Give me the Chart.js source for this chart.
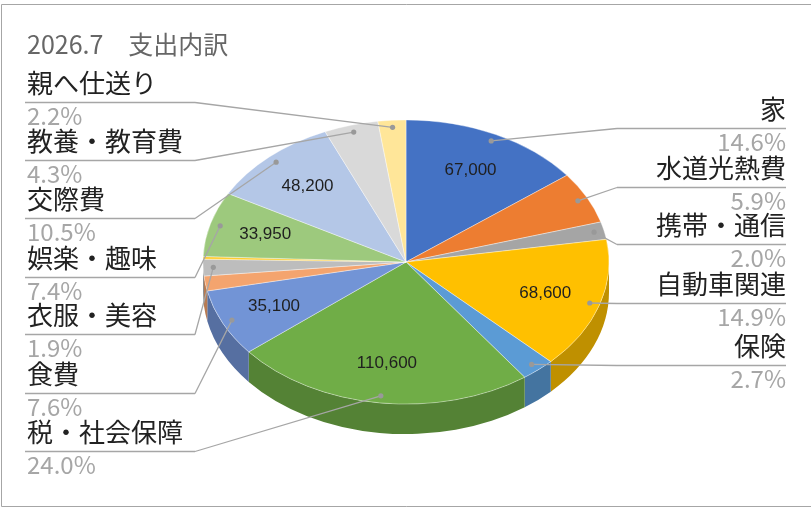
<!DOCTYPE html>
<html>
<head>
<meta charset="utf-8">
<script src="https://cdn.jsdelivr.net/npm/chart.js@4.4.1/dist/chart.umd.min.js"></script>
<style>
    html, body { margin: 0; padding: 0; background: #ffffff; }
    #wrap { width: 811px; height: 507px; position: relative; }
</style>
</head>
<body>
<div id="wrap"><canvas id="expenseChart"></canvas></div>
<script>
// Chart data (2026.7 支出内訳)
const chartTitle = '2026.7　支出内訳';
const categories = ['家', '水道光熱費', '携帯・通信', '自動車関連', '保険', '税・社会保障', '食費', '', '衣服・美容', '', '娯楽・趣味', '交際費', '教養・教育費', '親へ仕送り'];
const amounts = [67000, 27100, 9200, 68600, 12400, 110600, 35100, 7800, 8700, 1400, 33950, 48200, 19800, 10200];

// Slice colours (top face) and the darker side colours
const sliceColors = ['#4472C4', '#ED7D31', '#A5A5A5', '#FFC000', '#5B9BD5', '#70AD47', '#7294D6', '#F4A46E', '#BDBDBD', '#FFCD33', '#9DC97D', '#B4C7E7', '#D9D9D9', '#FFE699'];
const sideColors = sliceColors.map(c => shade(c, 0.75));

// Label layout: underline y of each label box (null = no label)
const labelRows = [128, 187, 244, 303, 365, 451, 393, null, 334, null, 277, 218, 160, 102];

// Pie look
const tilt = 0.70;      // vertical squash of the top face
const depth = 30;       // thickness of the pie side
const valueMin = 0.07;  // show amounts on slices of at least 7%

const fontJP = '"Noto Sans CJK JP", "Noto Sans", sans-serif';

function shade(hex, k) {
    const n = parseInt(hex.slice(1), 16);
    const r = Math.round(((n >> 16) & 255) * k);
    const g = Math.round(((n >> 8) & 255) * k);
    const b = Math.round((n & 255) * k);
    return `rgb(${r}, ${g}, ${b})`;
}

const total = amounts.reduce((a, b) => a + b, 0);

function arcProps(arc) {
    return arc.getProps(['x', 'y', 'startAngle', 'endAngle', 'outerRadius'], true);
}

// point on the squashed pie at a fraction of the radius
function piePoint(p, f) {
    const mid = (p.startAngle + p.endAngle) / 2;
    return {
        x: p.x + f * p.outerRadius * Math.cos(mid),
        y: p.y + f * p.outerRadius * tilt * Math.sin(mid)
    };
}

// Side of the pie + squashed top face
const pie3d = {
    id: 'pie3d',
    beforeDatasetsDraw(chart) {
        const ctx = chart.ctx;
        const meta = chart.getDatasetMeta(0);
        ctx.save();
        meta.data.forEach((arc, i) => {
            const p = arcProps(arc);
            const lo = Math.max(p.startAngle, 0);
            const hi = Math.min(p.endAngle, Math.PI);
            if (hi <= lo) return;
            const ry = p.outerRadius * tilt;
            ctx.beginPath();
            ctx.ellipse(p.x, p.y, p.outerRadius, ry, 0, lo, hi, false);
            ctx.ellipse(p.x, p.y + depth, p.outerRadius, ry, 0, hi, lo, true);
            ctx.closePath();
            ctx.fillStyle = sideColors[i];
            ctx.fill();
        });
        ctx.restore();

        const cy = meta.data[0].y;
        ctx.save();
        ctx.translate(0, cy);
        ctx.scale(1, tilt);
        ctx.translate(0, -cy);
    },
    afterDatasetsDraw(chart) {
        chart.ctx.restore();
    }
};

// Title, frame, amounts and the leader labels
const pieLabels = {
    id: 'pieLabels',
    afterDraw(chart) {
        const ctx = chart.ctx;
        const meta = chart.getDatasetMeta(0);
        ctx.save();

        // frame
        ctx.strokeStyle = '#a6a6a6';
        ctx.lineWidth = 1;
        ctx.beginPath();
        ctx.moveTo(820, 4.5);
        ctx.lineTo(1.5, 4.5);
        ctx.lineTo(1.5, 506.5);
        ctx.lineTo(820, 506.5);
        ctx.stroke();

        // title
        ctx.fillStyle = '#666666';
        ctx.font = `25px ${fontJP}`;
        ctx.textAlign = 'left';
        ctx.textBaseline = 'alphabetic';
        ctx.fillText(chartTitle, 27, 54);

        meta.data.forEach((arc, i) => {
            const p = arcProps(arc);
            const share = amounts[i] / total;

            // amount inside the slice
            if (share >= valueMin) {
                const v = piePoint(p, 0.72);
                ctx.fillStyle = '#1f1f1f';
                ctx.font = '17px "Liberation Sans", Arial, sans-serif';
                ctx.textAlign = 'center';
                ctx.textBaseline = 'middle';
                ctx.fillText(amounts[i].toLocaleString('en-US'), v.x, v.y);
            }

            const rowY = labelRows[i];
            if (!categories[i] || rowY == null) return;

            const a = piePoint(p, 0.95);
            const right = a.x > p.x;
            const boxL = right ? 617 : 25;
            const boxR = right ? 786 : 195;
            const joinX = right ? boxL : boxR;

            // leader line + underline
            ctx.strokeStyle = '#a6a6a6';
            ctx.lineWidth = 1.3;
            ctx.beginPath();
            ctx.moveTo(a.x, a.y);
            ctx.lineTo(joinX, rowY + 0.5);
            ctx.moveTo(boxL, rowY + 0.5);
            ctx.lineTo(boxR, rowY + 0.5);
            ctx.stroke();
            ctx.fillStyle = '#999999';
            ctx.beginPath();
            ctx.arc(a.x, a.y, 2.6, 0, Math.PI * 2);
            ctx.fill();

            // category name and percentage
            const tx = right ? boxR : boxL + 2;
            ctx.textAlign = right ? 'right' : 'left';
            ctx.textBaseline = 'alphabetic';
            ctx.font = `26px ${fontJP}`;
            ctx.fillStyle = '#222222';
            ctx.fillText(categories[i], tx, rowY - 9);
            ctx.fillStyle = '#a6a6a6';
            ctx.font = `24px ${fontJP}`;
            ctx.fillText((share * 100).toFixed(1) + '%', tx, rowY + 23);
        });
        ctx.restore();
    }
};

// Create 3D-look Pie Chart
function createExpensePie(canvasId) {
    const ctx = document.getElementById(canvasId);
    if (!ctx) return null;

    return new Chart(ctx, {
        type: 'pie',
        data: {
            labels: categories,
            datasets: [{
                data: amounts,
                backgroundColor: sliceColors,
                borderColor: 'rgba(255, 255, 255, 0.45)',
                borderWidth: 1,
                radius: 203
            }]
        },
        options: {
            responsive: true,
            maintainAspectRatio: false,
            animation: false,
            layout: {
                padding: { left: 1, right: 0, top: 17, bottom: 0 }
            },
            plugins: {
                legend: { display: false },
                title: { display: false },
                tooltip: { enabled: false }
            }
        },
        plugins: [pie3d, pieLabels]
    });
}

createExpensePie('expenseChart');
</script>
</body>
</html>
